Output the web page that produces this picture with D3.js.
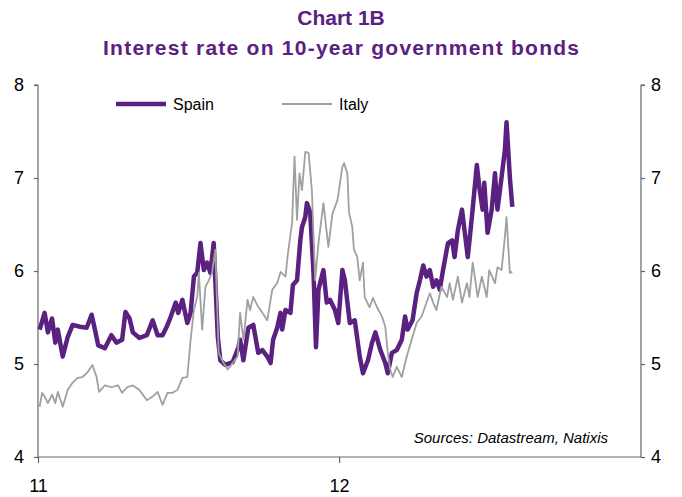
<!DOCTYPE html>
<html>
<head>
<meta charset="utf-8">
<script src="https://d3js.org/d3.v7.min.js"></script>
<style>
  body { margin: 0; background: #fff; }
  svg { font-family: "Liberation Sans", Arial, sans-serif; }
</style>
</head>
<body>
<div id="chart"></div>
<script>
// Spain 10y yield
var spainDates = ["2011-01-03","2011-01-09","2011-01-13","2011-01-18","2011-01-22","2011-01-25","2011-01-31","2011-02-06","2011-02-12","2011-02-21",
  "2011-03-01","2011-03-07","2011-03-11","2011-03-15","2011-03-23","2011-03-31","2011-04-06","2011-04-13","2011-04-17","2011-04-22",
  "2011-04-26","2011-05-04","2011-05-13","2011-05-20","2011-05-26","2011-06-01","2011-06-06","2011-06-11","2011-06-17","2011-06-20",
  "2011-06-25","2011-07-01","2011-07-05","2011-07-09","2011-07-13","2011-07-17","2011-07-21","2011-07-25","2011-07-29","2011-08-02",
  "2011-08-07","2011-08-10","2011-08-16","2011-08-25","2011-09-01","2011-09-03","2011-09-07","2011-09-13","2011-09-19","2011-09-25",
  "2011-09-30","2011-10-06","2011-10-10","2011-10-13","2011-10-18","2011-10-22","2011-10-24","2011-10-28","2011-11-03","2011-11-06",
  "2011-11-11","2011-11-15","2011-11-17","2011-11-21","2011-11-23","2011-11-27","2011-12-01","2011-12-04","2011-12-07","2011-12-13",
  "2011-12-17","2011-12-21","2011-12-27","2011-12-31","2012-01-05","2012-01-08","2012-01-14","2012-01-20","2012-01-26","2012-01-30",
  "2012-02-05","2012-02-10","2012-02-14","2012-02-20","2012-02-26","2012-02-29","2012-03-05","2012-03-11","2012-03-17","2012-03-21",
  "2012-03-24","2012-03-30","2012-04-04","2012-04-08","2012-04-12","2012-04-16","2012-04-20","2012-04-24","2012-04-28","2012-05-02",
  "2012-05-06","2012-05-12","2012-05-17","2012-05-20","2012-05-24","2012-05-29","2012-06-01","2012-06-05","2012-06-10","2012-06-16",
  "2012-06-19","2012-06-23","2012-06-25","2012-06-29","2012-07-04","2012-07-08","2012-07-11","2012-07-16","2012-07-20","2012-07-22",
  "2012-07-26","2012-07-29"];
var spainValues = [5.37,5.55,5.34,5.49,5.23,5.37,5.08,5.29,5.42,5.40,
  5.39,5.53,5.37,5.20,5.17,5.31,5.23,5.26,5.56,5.49,
  5.34,5.28,5.31,5.47,5.31,5.31,5.40,5.51,5.66,5.55,
  5.69,5.44,5.55,5.94,5.98,6.30,6.01,6.09,5.98,6.30,
  5.29,5.04,4.99,5.02,5.18,5.26,5.04,5.39,5.42,5.12,
  5.15,5.08,5.01,5.26,5.39,5.55,5.37,5.58,5.55,5.85,
  5.90,6.33,6.47,6.58,6.73,6.63,5.98,5.18,5.80,6.01,
  5.66,5.69,5.58,5.44,6.01,5.90,5.44,5.47,5.08,4.90,
  5.04,5.23,5.34,5.15,5.01,4.90,5.12,5.15,5.26,5.51,
  5.37,5.47,5.76,5.90,6.06,5.94,6.01,5.83,5.90,5.80,
  6.01,6.30,6.33,6.15,6.44,6.66,6.44,6.15,6.58,7.14,
  6.90,6.66,6.95,6.41,6.66,7.05,6.66,7.01,7.30,7.60,
  7.01,6.69];

// Italy 10y yield
var italyDates = ["2011-01-03","2011-01-06","2011-01-09","2011-01-13","2011-01-18","2011-01-22","2011-01-25","2011-01-31","2011-02-06","2011-02-12",
  "2011-02-18","2011-02-24","2011-03-02","2011-03-08","2011-03-13","2011-03-16","2011-03-23","2011-03-31","2011-04-08","2011-04-13",
  "2011-04-19","2011-04-26","2011-05-04","2011-05-13","2011-05-20","2011-05-26","2011-06-01","2011-06-07","2011-06-13","2011-06-19",
  "2011-06-25","2011-07-01","2011-07-05","2011-07-09","2011-07-13","2011-07-15","2011-07-19","2011-07-23","2011-07-27","2011-07-31",
  "2011-08-04","2011-08-08","2011-08-14","2011-08-19","2011-08-25","2011-08-31","2011-09-03","2011-09-07","2011-09-12","2011-09-15",
  "2011-09-19","2011-09-24","2011-09-30","2011-10-06","2011-10-12","2011-10-18","2011-10-22","2011-10-28","2011-10-31","2011-11-05",
  "2011-11-08","2011-11-11","2011-11-14","2011-11-17","2011-11-21","2011-11-25","2011-11-29","2011-12-03","2011-12-07","2011-12-13",
  "2011-12-19","2011-12-24","2011-12-30","2012-01-05","2012-01-07","2012-01-11","2012-01-13","2012-01-17","2012-01-19","2012-01-23",
  "2012-01-26","2012-01-30","2012-02-01","2012-02-07","2012-02-11","2012-02-16","2012-02-22","2012-02-26","2012-02-29","2012-03-03",
  "2012-03-06","2012-03-11","2012-03-17","2012-03-23","2012-03-29","2012-04-04","2012-04-10","2012-04-14","2012-04-20","2012-04-24",
  "2012-04-28","2012-05-04","2012-05-11","2012-05-14","2012-05-18","2012-05-24","2012-05-29","2012-06-04","2012-06-07","2012-06-11",
  "2012-06-17","2012-06-22","2012-06-28","2012-07-01","2012-07-08","2012-07-11","2012-07-16","2012-07-20","2012-07-22","2012-07-26",
  "2012-07-29"];
var italyValues = [4.54,4.69,4.65,4.58,4.67,4.58,4.70,4.54,4.72,4.80,
  4.85,4.86,4.91,4.99,4.86,4.70,4.77,4.75,4.77,4.69,
  4.75,4.77,4.72,4.61,4.65,4.70,4.56,4.69,4.69,4.72,
  4.85,4.86,5.26,5.58,5.72,5.98,5.37,5.83,5.90,5.98,
  6.23,5.12,5.01,4.94,5.01,5.08,5.55,5.26,5.69,5.58,
  5.72,5.63,5.55,5.47,5.80,5.87,5.99,5.94,6.19,6.52,
  7.23,6.55,7.05,6.87,7.28,7.27,6.87,5.90,6.30,6.73,
  6.26,6.62,6.76,7.12,7.16,7.05,6.63,6.47,6.23,6.15,
  5.90,6.09,5.72,5.61,5.71,5.61,5.51,5.40,5.12,4.94,
  4.86,4.97,4.86,5.08,5.26,5.44,5.51,5.61,5.76,5.66,
  5.58,5.83,5.72,5.87,5.69,5.94,5.66,5.87,5.72,6.09,
  5.72,5.94,5.72,6.01,5.87,6.04,6.01,6.37,6.58,5.98,
  5.99];

var yTicks = [4, 5, 6, 7, 8];
var xTicks = ["2011-01-01", "2012-01-01"];
var xTickLabels = ["11", "12"];
var seriesNames = ["Spain", "Italy"];
var seriesColors = ["#5a2181", "#a0a0a0"];

var parseDate = d3.timeParse("%Y-%m-%d");

var width = 682, height = 497;
var margin = {top: 85, right: 41, bottom: 40, left: 38};

var svg = d3.select("#chart")
    .append("svg")
    .attr("width", width)
    .attr("height", height);

// scales
var x = d3.scaleTime()
    .domain([parseDate("2011-01-01"), parseDate("2013-01-01")])
    .range([margin.left, width - margin.right]);

var y = d3.scaleLinear()
    .domain([4, 8])
    .range([height - margin.bottom, margin.top]);

// titles
svg.append("text")
    .attr("x", 341).attr("y", 25)
    .attr("text-anchor", "middle")
    .attr("font-size", "21px").attr("font-weight", "bold")
    .attr("fill", "#5a2181")
    .text("Chart 1B");

svg.append("text")
    .attr("x", 341).attr("y", 55)
    .attr("text-anchor", "middle")
    .attr("font-size", "21px").attr("font-weight", "bold")
    .attr("fill", "#5a2181")
    .attr("textLength", 476).attr("lengthAdjust", "spacing")
    .text("Interest rate on 10-year government bonds");

// axes
var axisColor = "#666";

var yLeft = d3.axisLeft(y).tickValues(yTicks).tickSize(4).tickPadding(10).tickFormat(d3.format("d"));
var yRight = d3.axisRight(y).tickValues(yTicks).tickSize(4).tickPadding(6).tickFormat(d3.format("d"));
var xAxis = d3.axisBottom(x)
    .tickValues(xTicks.map(parseDate))
    .tickSize(6).tickPadding(16)
    .tickFormat(function(d, i) { return xTickLabels[i]; });

var gl = svg.append("g").attr("transform", "translate(" + margin.left + ",0)").call(yLeft);
var gr = svg.append("g").attr("transform", "translate(" + (width - margin.right) + ",0)").call(yRight);
var gx = svg.append("g").attr("transform", "translate(0," + (height - margin.bottom) + ")").call(xAxis);

[gl, gr, gx].forEach(function(g) {
  g.selectAll("path.domain").attr("stroke", axisColor).attr("stroke-width", 1.2);
  g.selectAll(".tick line").attr("stroke", axisColor).attr("stroke-width", 1.2);
  g.selectAll(".tick text")
    .attr("fill", "#000")
    .attr("font-size", "18px")
    .attr("font-family", "Liberation Sans, Arial, sans-serif");
});
// keep the outer axis ends flat like the original
gl.select("path.domain").attr("d", d3.line()([[-4, y(8)], [0, y(8)], [0, y(4)]]));
gr.select("path.domain").attr("d", d3.line()([[4, y(8)], [0, y(8)], [0, y(4)]]));
gx.select("path.domain").attr("d", d3.line()([[x.range()[0], 0], [x.range()[1], 0]]));

// lines
var line = d3.line()
    .x(function(d) { return x(d.date); })
    .y(function(d) { return y(d.value); });

var spain = spainDates.map(function(d, i) { return {date: parseDate(d), value: spainValues[i]}; });
var italy = italyDates.map(function(d, i) { return {date: parseDate(d), value: italyValues[i]}; });

svg.append("path")
    .datum(spain)
    .attr("fill", "none")
    .attr("stroke", seriesColors[0])
    .attr("stroke-width", 4.5)
    .attr("stroke-linejoin", "round")
    .attr("d", line);

svg.append("path")
    .datum(italy)
    .attr("fill", "none")
    .attr("stroke", seriesColors[1])
    .attr("stroke-width", 1.8)
    .attr("stroke-linejoin", "round")
    .attr("d", line);

// legend
var legendX = [116, 282];
var legend = svg.append("g").attr("class", "legend");
seriesNames.forEach(function(name, i) {
  legend.append("line")
    .attr("x1", legendX[i]).attr("x2", legendX[i] + 50)
    .attr("y1", 104).attr("y2", 104)
    .attr("stroke", seriesColors[i])
    .attr("stroke-width", i === 0 ? 4.5 : 1.8);
  legend.append("text")
    .attr("x", legendX[i] + 57).attr("y", 110)
    .attr("font-size", "16px")
    .attr("fill", "#000")
    .text(name);
});

// source note
svg.append("text")
    .attr("x", 608).attr("y", 443)
    .attr("text-anchor", "end")
    .attr("font-size", "15px")
    .attr("font-style", "italic")
    .attr("fill", "#000")
    .text("Sources: Datastream, Natixis");
</script>
</body>
</html>
